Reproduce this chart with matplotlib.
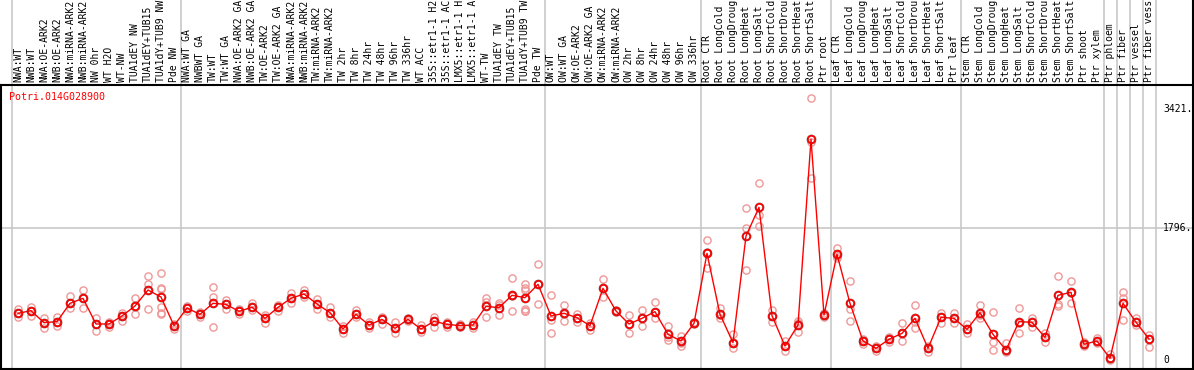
import matplotlib
matplotlib.use('Agg')
import matplotlib.pyplot as plt
import matplotlib.transforms as mtransforms

# sample names (header, truncated like the original)
samples = [
    'NWA:WT', 'NWB:WT', 'NWA:OE-ARK2', 'NWB:OE-ARK2', 'NWA:miRNA-ARK2', 'NWB:miRNA-ARK2',
    'NW 0hr', 'WT H2O', 'WT-NW', 'TUA1dEY NW', 'TUA1dEY+TUB15', 'TUA1dY+TUB9 NW', 'Pde NW',
    'NWA:WT GA', 'NWBWT GA', 'TW:WT', 'TW:WT GA', 'NWA:OE-ARK2 GA', 'NWB:OE-ARK2 GA',
    'TW:OE-ARK2', 'TW:OE-ARK2 GA', 'NWA:miRNA-ARK2', 'NWB:miRNA-ARK2', 'TW:miRNA-ARK2',
    'TW:miRNA-ARK2', 'TW 2hr', 'TW 8hr', 'TW 24hr', 'TW 48hr', 'TW 96hr', 'TW 336hr',
    'WT ACC', '35S::etr1-1 H2', '35S::etr1-1 AC', 'LMX5::etr1-1 H', 'LMX5::etr1-1 A',
    'WT-TW', 'TUA1dEY TW', 'TUA1dEY+TUB15', 'TUA1dY+TUB9 TW', 'Pde TW',
    'OW:WT', 'OW:WT GA', 'OW:OE-ARK2', 'OW:OE-ARK2 GA', 'OW:miRNA-ARK2', 'OW:miRNA-ARK2',
    'OW 2hr', 'OW 8hr', 'OW 24hr', 'OW 48hr', 'OW 96hr', 'OW 336hr',
    'Root CTR', 'Root LongCold', 'Root LongDroug', 'Root LongHeat', 'Root LongSalt',
    'Root ShortCold', 'Root ShortDrou', 'Root ShortHeat', 'Root ShortSalt', 'Ptr root',
    'Leaf CTR', 'Leaf LongCold', 'Leaf LongDroug', 'Leaf LongHeat', 'Leaf LongSalt',
    'Leaf ShortCold', 'Leaf ShortDrou', 'Leaf ShortHeat', 'Leaf ShortSalt', 'Ptr leaf',
    'Stem CTR', 'Stem LongCold', 'Stem LongDroug', 'Stem LongHeat', 'Stem LongSalt',
    'Stem ShortCold', 'Stem ShortDrou', 'Stem ShortHeat', 'Stem ShortSalt', 'Ptr shoot',
    'Ptr xylem', 'Ptr phloem', 'Ptr fiber', 'Ptr vessel', 'Ptr fiber vess',
]

# number of samples in each experiment block (separated by grey lines)
group_sizes = [13, 28, 12, 10, 10, 11, 1, 1, 1, 1]

# mean expression per sample
means = [
    635, 671, 508, 522, 771, 839, 490, 490, 599, 735, 952, 857, 467,
    707, 621, 771, 757, 662, 717, 567, 717, 839, 898, 762, 644, 422, 621, 476,
    553, 431, 553, 422, 526, 485, 467, 476, 730, 712, 880, 848, 1030,
    599, 635, 576, 467, 975, 667, 490, 567, 658, 349, 259, 499,
    1451, 621, 236, 1687, 2077, 603, 190, 476, 3002, 612,
    1438, 771, 259, 159, 281, 363, 567, 159, 581, 567,
    417, 644, 349, 136, 522, 513, 308, 880, 921, 213, 259,
    23, 771, 513, 286,
]

# replicate values per sample
reps = [
    [694, 635, 590], [726, 671, 603], [567, 508, 431], [590, 522, 467],
    [871, 771, 703], [952, 839, 712], [576, 490, 395], [513, 490, 454],
    [644, 599, 531], [839, 735, 630], [1143, 1034, 694],
    [1179, 975, 966, 726, 644, 621], [494, 467, 417],
    [730, 707, 667], [658, 621, 590], [998, 857, 444], [816, 757, 694],
    [694, 662, 621], [771, 717, 680], [612, 567, 508], [748, 717, 667],
    [907, 839, 771], [952, 898, 853], [830, 762, 689], [726, 644, 590],
    [467, 422, 363], [676, 621, 581], [513, 476, 440], [590, 553, 485],
    [513, 431, 363], [567, 553, 531], [476, 422, 376], [590, 526, 444],
    [513, 485, 444], [485, 467, 454], [522, 476, 440], [839, 785, 581],
    [771, 748, 612], [1111, 867, 662], [1030, 984, 952, 694, 667, 662],
    [1302, 1031, 757],
    [884, 550, 363], [748, 622, 535], [621, 576, 513], [499, 467, 408],
    [1102, 975, 857], [680, 667, 649], [612, 494, 363], [680, 567, 467],
    [785, 658, 567], [467, 317, 272], [331, 227, 195], [513, 499, 485],
    [1633, 1474, 1247], [712, 612, 576], [349, 227, 159], [2064, 1791, 1225],
    [2404, 1973, 1823], [680, 603, 522], [259, 190, 127], [535, 508, 386],
    [3560, 2965, 2481], [635, 612, 590],
    [1519, 1412, 1383], [1075, 694, 531], [286, 259, 218], [195, 159, 127],
    [317, 281, 240], [508, 363, 259], [748, 522, 431], [190, 159, 113],
    [644, 581, 508], [635, 567, 508],
    [485, 417, 372], [748, 617, 567], [649, 240, 136], [227, 136, 104],
    [703, 499, 363], [567, 513, 454], [363, 308, 249], [1147, 757, 736],
    [1075, 917, 771], [240, 213, 195], [295, 259, 227],
    [77, 23, 0], [921, 839, 540], [567, 513, 476], [340, 286, 181],
]

ytick_vals = [3421, 1796, 0]
ytick_labels = ['3421.', '1796.', '0']
gene = 'Potri.014G028900'

mono = 'DejaVu Sans Mono'
W, H = 1194, 370
fig = plt.figure(figsize=(W / 100, H / 100), dpi=100)
ax = fig.add_axes([1 / W, 1 / H, 1192 / W, 284 / H])

x = list(range(len(samples)))

# replicates
for i, r in enumerate(reps):
    ax.plot([i] * len(r), r, 'o', mfc='none', mec='#f09898', ms=5.2, mew=1.0, zorder=2)

# mean line and markers
ax.plot(x, means, color='red', lw=1.0, zorder=3)
ax.plot(x, means, 'o', mfc='none', mec='black', ms=5.6, mew=1.5, alpha=0.45, zorder=4)
ax.plot(x, means, 'o', mfc='none', mec='red', ms=5.4, mew=1.2, zorder=5)

ax.set_xlim(-17 / 13, -17 / 13 + 1192 / 13)
ax.set_ylim(-9 * 13.606, 275 * 13.606)
ax.set_xticks([])
ax.set_yticks([])

# grey grid line at the middle value
ax.axhline(1796, color='#c8c8c8', lw=1.2, zorder=1)

# group separators, running through the header as well
vtrans = ax.get_xaxis_transform()
edge = -0.5
seps = [edge]
for g in group_sizes:
    edge += g
    seps.append(edge)
ax.vlines(seps, 0, 1 + 85 / 284, transform=vtrans, colors='#c8c8c8', lw=1.2,
          clip_on=False, zorder=1)
# right frame line in header
ax.plot([1, 1], [1, 1 + 85 / 284], transform=ax.transAxes, color='black', lw=1.5,
        clip_on=False)

for s in ax.spines.values():
    s.set_linewidth(1.5)

# header labels
htrans = mtransforms.offset_copy(vtrans, fig=fig, x=0, y=3, units='dots')
for i, lab in enumerate(samples):
    ax.text(i, 1, lab, transform=htrans, rotation=90, ha='center', va='bottom',
            fontsize=7, family=mono, clip_on=False)

# value labels on the right
ytrans = ax.get_yaxis_transform()
for v, lab in zip(ytick_vals, ytick_labels):
    ax.text((1163 - 1) / 1192, v, lab, transform=ytrans, ha='left', va='center',
            fontsize=7, family=mono, color='black')

ax.text(8 / 1192, 1 - 12 / 284, gene, transform=ax.transAxes, ha='left', va='center',
        fontsize=7.2, family=mono, color='red')

fig.savefig('out.png', dpi=100)
